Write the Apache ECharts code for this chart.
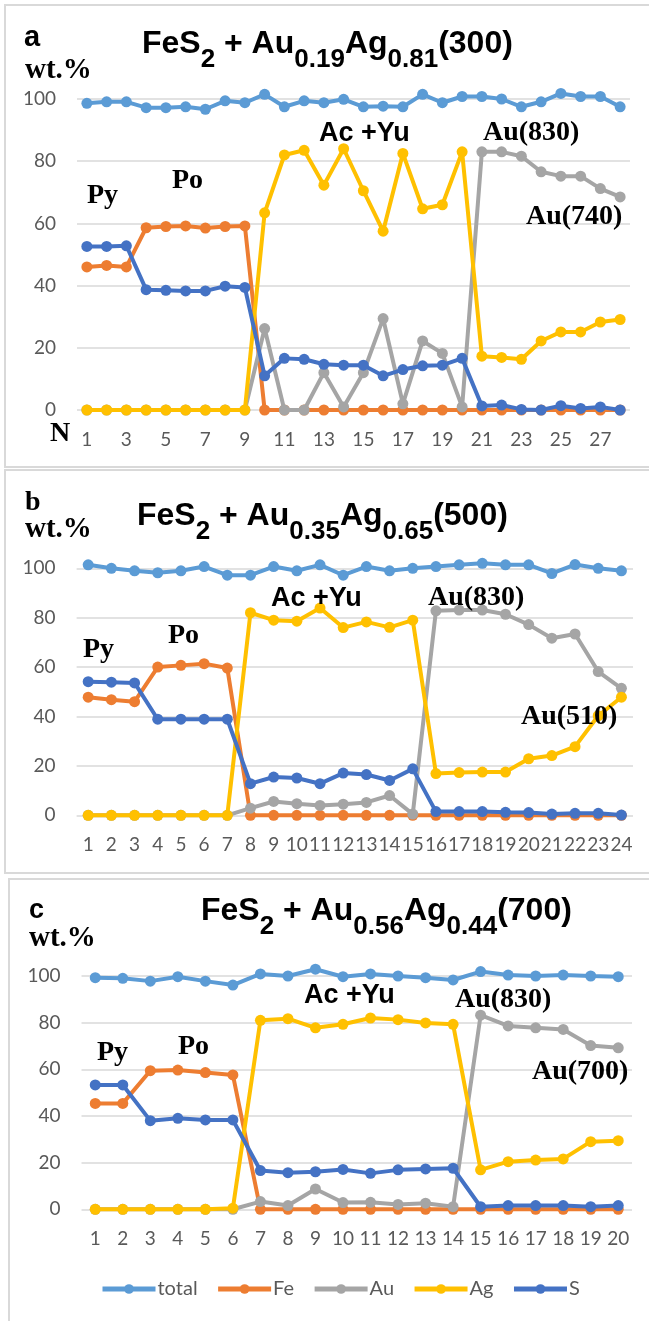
<!DOCTYPE html>
<html>
<head>
<meta charset="utf-8">
<script src="https://cdn.jsdelivr.net/npm/echarts@6/dist/echarts.min.js"></script>
<style>
html,body{margin:0;padding:0;background:#fff;}
#chart{width:649px;height:1321px;}
</style>
</head>
<body>
<div id="chart"></div>
<script>
// ---------- data ----------
const seriesNames = ['total', 'Fe', 'Au', 'Ag', 'S'];
const seriesColors = ['#5b9bd5', '#ed7d31', '#a5a5a5', '#ffc000', '#4472c4'];

// Panel a : FeS2 + Au0.19Ag0.81 (300)
const catsA = ['1','2','3','4','5','6','7','8','9','10','11','12','13','14','15','16','17','18','19','20','21','22','23','24','25','26','27','28'];
const totalA = [98.6,99.1,99.1,97.2,97.2,97.5,96.7,99.4,98.8,101.5,97.5,99.4,98.8,99.9,97.5,97.7,97.5,101.5,98.8,100.8,100.8,100,97.5,99.1,101.8,100.8,100.8,97.5];
const feA = [46,46.5,46,58.6,59,59.2,58.5,59,59.2,0,0,0,0,0,0,0,0,0,0,0,0,0,0,0,0,0,0,0];
const auA = [0,0,0,0,0,0,0,0,0,26.2,0,0,12,1,12,29.4,2,22.2,18.2,1,83,83,81.6,76.6,75.2,75.2,71.2,68.5];
const agA = [0,0,0,0,0,0,0,0,0,63.4,82,83.5,72.3,84,70.5,57.5,82.5,64.7,66,83,17.3,16.9,16.3,22.2,25.1,25.1,28.3,29.1];
const sA = [52.6,52.6,52.8,38.7,38.5,38.3,38.3,39.8,39.4,11,16.6,16.3,14.7,14.4,14.4,11,13,14.2,14.4,16.6,1.3,1.6,0.2,0,1.4,0.5,1,0];

// Panel b : FeS2 + Au0.35Ag0.65 (500)
const catsB = ['1','2','3','4','5','6','7','8','9','10','11','12','13','14','15','16','17','18','19','20','21','22','23','24'];
const totalB = [101.4,100,99,98.2,99,100.7,97.2,97.2,100.7,99,101.4,97.2,100.7,99,100,100.7,101.4,102,101.4,101.4,97.9,101.5,100,99];
const feB = [47.8,46.8,46,60,60.7,61.4,59.6,0,0,0,0,0,0,0,0,0,0,0,0,0,0,0,0,0];
const auB = [0,0,0,0,0,0,0,2.9,5.6,4.7,4,4.5,5.2,8,0.5,82.8,83.1,83.1,81.4,77.2,71.7,73.4,58.2,51.4];
const agB = [0,0,0,0,0,0,0,82,79,78.6,83.9,76,78.3,76.1,79,16.9,17.3,17.5,17.5,22.9,24.2,27.8,40.3,47.8];
const sB = [54.1,53.9,53.6,38.9,38.9,38.9,38.9,12.8,15.5,15.1,12.8,17.1,16.5,14.1,18.8,1.5,1.5,1.5,1.2,1.1,0.5,0.8,0.8,0.1];

// Panel c : FeS2 + Au0.56Ag0.44 (700)
const catsC = ['1','2','3','4','5','6','7','8','9','10','11','12','13','14','15','16','17','18','19','20'];
const totalC = [99.3,99,97.8,99.7,97.8,96.1,100.9,100,102.9,99.7,100.9,100,99.3,98.3,101.9,100.4,100,100.4,100,99.7];
const feC = [45.4,45.4,59.4,59.7,58.6,57.6,0,0,0,0,0,0,0,0,0,0,0,0,0,0];
const auC = [0,0,0,0,0,0,3.3,1.6,8.7,2.9,3,2.1,2.6,1.1,83.2,78.6,77.8,77.1,70.2,69.2];
const agC = [0,0,0,0,0,0.5,81,81.7,77.8,79.3,82,81.3,79.9,79.3,16.9,20.4,21.1,21.6,29,29.4];
const sC = [53.3,53.3,38,39,38.3,38.3,16.6,15.7,16.1,17.1,15.4,16.9,17.3,17.6,1.1,1.6,1.6,1.6,1.1,1.6];

const yTicks = [0, 20, 40, 60, 80, 100];

const titleTexts = [
  ['FeS', '2', ' + Au', '0.19', 'Ag', '0.81', '(300)'],
  ['FeS', '2', ' + Au', '0.35', 'Ag', '0.65', '(500)'],
  ['FeS', '2', ' + Au', '0.56', 'Ag', '0.44', '(700)']
];
const panelLetters = ['a', 'b', 'c'];
const annotA = ['Py', 'Po', 'Ac +Yu', 'Au(830)', 'Au(740)'];
const annotB = ['Py', 'Po', 'Ac +Yu', 'Au(830)', 'Au(510)'];
const annotC = ['Py', 'Po', 'Ac +Yu', 'Au(830)', 'Au(700)'];

// ---------- layout ----------
const panels = [
  {cats: catsA, data: [totalA, feA, auA, agA, sA], grid: {left: 77, top: 99, width: 553, height: 311}, labelInterval: 1,
   titlePos: [142, 15], letter: {x: 24, y: 38, serif: false, size: 29}, wt: [25, 71], box: [5, 5, 462],
   annots: annotA, annotPos: [[87, 196], [172, 181], [319, 134], [483, 133], [526, 217]]},
  {cats: catsB, data: [totalB, feB, auB, agB, sB], grid: {left: 76.6, top: 568.3, width: 556.4, height: 247}, labelInterval: 0,
   titlePos: [137, 487], letter: {x: 25, y: 503, serif: true, size: 28}, wt: [25, 530], box: [5, 470, 403],
   annots: annotB, annotPos: [[83, 650], [168, 636], [271, 599], [428, 598], [521, 717]]},
  {cats: catsC, data: [totalC, feC, auC, agC, sC], grid: {left: 81.5, top: 976, width: 550.5, height: 233.3}, labelInterval: 0,
   titlePos: [201, 882], letter: {x: 29, y: 911, serif: false, size: 27}, wt: [29, 939], box: [9, 879, 500],
   annots: annotC, annotPos: [[97, 1053], [178, 1047], [304, 996], [455, 1000], [532, 1072]]}
];

const axisFont = 'Lato, "Open Sans", sans-serif';
const sansBold = '"Liberation Sans", Arial, sans-serif';
const serifBold = '"Liberation Serif", "Times New Roman", serif';

const grids = [], xAxes = [], yAxes = [], series = [], titles = [], graphics = [];

panels.forEach((p, gi) => {
  grids.push(Object.assign({containLabel: false}, p.grid));
  xAxes.push({
    type: 'category', gridIndex: gi, data: p.cats, boundaryGap: true,
    axisLine: {show: false}, axisTick: {show: false},
    axisLabel: {interval: p.labelInterval, color: '#595959', fontSize: 19, fontFamily: axisFont, margin: 20}
  });
  yAxes.push({
    type: 'value', gridIndex: gi, min: yTicks[0], max: yTicks[yTicks.length - 1], interval: yTicks[1] - yTicks[0],
    axisLine: {show: false}, axisTick: {show: false},
    axisLabel: {color: '#595959', fontSize: 19, fontFamily: axisFont, margin: 21},
    splitLine: {lineStyle: {color: '#d9d9d9', width: 1.5}}
  });
  seriesNames.forEach((name, si) => {
    series.push({
      name: name, type: 'line', xAxisIndex: gi, yAxisIndex: gi, data: p.data[si],
      symbol: 'circle', symbolSize: 11, clip: false, z: 2 + si,
      lineStyle: {color: seriesColors[si], width: 4},
      itemStyle: {color: seriesColors[si]},
      emphasis: {disabled: true}
    });
  });
  const t = titleTexts[gi];
  titles.push({
    left: p.titlePos[0], top: p.titlePos[1], padding: 0,
    text: '{m|' + t[0] + '}{s|' + t[1] + '}{m|' + t[2] + '}{s|' + t[3] + '}{m|' + t[4] + '}{s|' + t[5] + '}{m|' + t[6] + '}',
    textStyle: {
      rich: {
        m: {fontFamily: sansBold, fontWeight: 'bold', fontSize: 32, color: '#000', lineHeight: 58},
        s: {fontFamily: sansBold, fontWeight: 'bold', fontSize: 26, color: '#000', lineHeight: 22, verticalAlign: 'bottom'}
      }
    }
  });
  // panel frame
  graphics.push({type: 'rect', shape: {x: p.box[0], y: p.box[1], width: 700, height: p.box[2]},
    style: {fill: 'none', stroke: '#d9d9d9', lineWidth: 2}, silent: true, z: 0});
  graphics.push({type: 'text', x: p.letter.x, y: p.letter.y,
    style: {text: panelLetters[gi], fill: '#000', font: 'bold ' + p.letter.size + 'px ' + (p.letter.serif ? serifBold : sansBold), verticalAlign: 'middle'}});
  graphics.push({type: 'text', x: p.wt[0], y: p.wt[1],
    style: {text: 'wt.%', fill: '#000', font: 'bold 29px ' + serifBold, verticalAlign: 'middle'}});
  p.annots.forEach((txt, ai) => {
    const isSans = txt.indexOf('Ac') === 0;
    graphics.push({type: 'text', x: p.annotPos[ai][0], y: p.annotPos[ai][1], z: 20,
      style: {text: txt, fill: '#000', font: 'bold ' + (isSans ? '27px ' + sansBold : '28px ' + serifBold), verticalAlign: 'middle'}});
  });
});
graphics.push({type: 'text', x: 50, y: 434,
  style: {text: 'N', fill: '#000', font: 'bold 28px ' + serifBold, verticalAlign: 'middle'}});

const chart = echarts.init(document.getElementById('chart'), null, {renderer: 'canvas'});
chart.setOption({
  animation: false,
  backgroundColor: '#fff',
  title: titles,
  grid: grids,
  xAxis: xAxes,
  yAxis: yAxes,
  legend: {
    data: seriesNames, left: 100, top: 1279, padding: 0,
    itemWidth: 53, itemHeight: 12, itemGap: 18,
    lineStyle: {width: 5},
    textStyle: {color: '#595959', fontSize: 20, fontFamily: axisFont, padding: [0, 0, 0, -3]}
  },
  graphic: graphics,
  series: series
});
</script>
</body>
</html>
